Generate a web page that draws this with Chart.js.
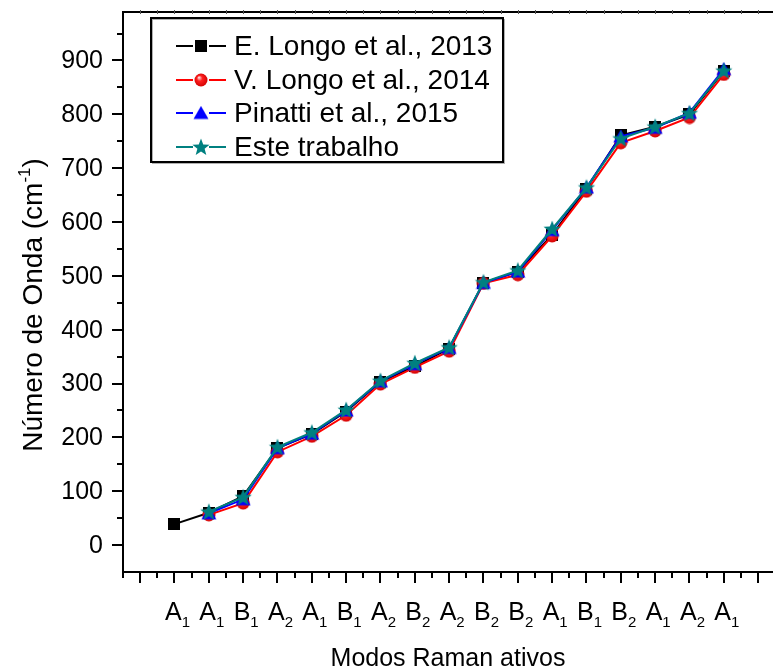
<!DOCTYPE html>
<html>
<head>
<meta charset="utf-8">
<script src="https://cdn.jsdelivr.net/npm/chart.js@4/dist/chart.umd.min.js"></script>
<style>
  html, body { margin: 0; padding: 0; background: #ffffff; }
  #wrap { width: 773px; height: 672px; }
</style>
</head>
<body>
<div id="wrap"><canvas id="c" width="773" height="672"></canvas></div>
<script>
// Raman-active modes (symmetry letter + index), one per position 1..17
const modeLetters = ['A','A','B','A','A','B','A','B','A','B','B','A','B','B','A','A','A'];
const modeIndices = ['1','1','1','2','1','1','2','2','2','2','2','1','1','2','1','2','1'];

// Wavenumbers (cm-1) for each mode
const eLongo2013   = [39, 60, 91, 180, 206, 248, 303, 332, 365, 487, 508, 576, 662, 761, 777, 800, 880];
const vLongo2014   = [null, 56, 78, 173, 202, 241, 299, 330, 360, 486, 502, 574, 657, 747, 769, 794, 874];
const pinatti2015  = [null, 59, 85, 180, 207, 250, 304, 336, 366, 487, 508, 585, 664, 759, 775, 803, 884];
const esteTrabalho = [null, 62, 89, 182, 209, 251, 305, 338, 367, 488, 510, 587, 664, 755, 777, 802, 881];

const seriesNames = ['E. Longo et al., 2013', 'V. Longo et al., 2014', 'Pinatti et al., 2015', 'Este trabalho'];
const yTickLabels = [0, 100, 200, 300, 400, 500, 600, 700, 800, 900];

const FONT = '"Liberation Sans", Arial, Helvetica, sans-serif';

// ---- marker images ----
function makeCanvas(w, h) {
  const c = document.createElement('canvas');
  c.width = w; c.height = h;
  return c;
}
function squareMarker() {
  const c = makeCanvas(12, 12);
  const g = c.getContext('2d');
  g.fillStyle = '#000000';
  g.fillRect(0, 0, 12, 12);
  return c;
}
function sphereMarker() {
  const c = makeCanvas(14, 14);
  const g = c.getContext('2d');
  const grad = g.createRadialGradient(5, 4.5, 0.5, 7, 7, 7);
  grad.addColorStop(0, '#ffd0d0');
  grad.addColorStop(0.35, '#ff2020');
  grad.addColorStop(1, '#d00000');
  g.fillStyle = grad;
  g.beginPath();
  g.arc(7, 7, 6.5, 0, Math.PI * 2);
  g.fill();
  return c;
}
function triangleMarker() {
  const c = makeCanvas(16, 15);
  const g = c.getContext('2d');
  g.fillStyle = '#0000ff';
  g.beginPath();
  g.moveTo(8, 0.5);
  g.lineTo(15.5, 13.5);
  g.lineTo(0.5, 13.5);
  g.closePath();
  g.fill();
  return c;
}
function starMarker() {
  const c = makeCanvas(20, 20);
  const g = c.getContext('2d');
  g.fillStyle = '#008080';
  g.beginPath();
  const R = 9, r = 3.8, cx = 10, cy = 10.6;
  for (let i = 0; i < 10; i++) {
    const ang = -Math.PI / 2 + i * Math.PI / 5;
    const rad = i % 2 === 0 ? R : r;
    const px = cx + rad * Math.cos(ang), py = cy + rad * Math.sin(ang);
    if (i === 0) g.moveTo(px, py); else g.lineTo(px, py);
  }
  g.closePath();
  g.fill();
  return c;
}

const markers = [squareMarker(), sphereMarker(), triangleMarker(), starMarker()];
const colors = ['#000000', '#ff0000', '#0000ff', '#008080'];
const seriesValues = [eLongo2013, vLongo2014, pinatti2015, esteTrabalho];

function toPoints(arr) {
  return arr.map((v, i) => ({ x: i + 1, y: v }));
}

const datasets = seriesValues.map((vals, k) => ({
  label: seriesNames[k],
  data: toPoints(vals),
  borderColor: colors[k],
  backgroundColor: colors[k],
  borderWidth: 2,
  pointStyle: markers[k],
  pointRadius: 6,
  pointHoverRadius: 6,
  tension: 0,
  spanGaps: false,
  order: 3 - k
}));

// ---- axes, labels, titles and legend ----
const framePlugin = {
  id: 'frame',
  beforeDatasetsDraw(chart) {
    const { ctx, chartArea, scales } = chart;
    const xs = scales.x, ys = scales.y;
    const L = chartArea.left, T = chartArea.top, B = chartArea.bottom, R = chart.width;
    ctx.save();
    ctx.strokeStyle = '#000000';
    ctx.lineWidth = 2;
    ctx.lineCap = 'butt';
    ctx.beginPath();
    ctx.moveTo(L, T - 1); ctx.lineTo(L, B + 1);
    ctx.moveTo(L - 1, T); ctx.lineTo(R, T);
    ctx.moveTo(L - 1, B); ctx.lineTo(R, B);
    ctx.stroke();

    // y ticks (major every 100, minor every 50)
    ctx.beginPath();
    for (let v = 0; v <= 950; v += 50) {
      const py = Math.round(ys.getPixelForValue(v));
      const len = v % 100 === 0 ? 11 : 6;
      ctx.moveTo(L - len, py); ctx.lineTo(L, py);
    }
    // x ticks (major on each position, minor halfway)
    for (let t = -0.5; t <= 18.01; t += 0.5) {
      const px = Math.round(xs.getPixelForValue(t));
      const major = Math.abs(t - Math.round(t)) < 1e-6;
      const len = major ? 11 : 6;
      ctx.moveTo(px, B); ctx.lineTo(px, B + len);
    }
    ctx.stroke();

    // small ticks along the top line
    ctx.lineWidth = 1;
    ctx.strokeStyle = '#555555';
    ctx.beginPath();
    for (let t = 0; t <= 18.01; t += 0.5) {
      const px = Math.round(xs.getPixelForValue(t)) + 0.5;
      ctx.moveTo(px, T - 2); ctx.lineTo(px, T + 2);
    }
    ctx.stroke();

    // y tick labels
    ctx.fillStyle = '#000000';
    ctx.font = '25px ' + FONT;
    ctx.textAlign = 'right';
    ctx.textBaseline = 'middle';
    yTickLabels.forEach(v => {
      ctx.fillText(String(v), L - 20, ys.getPixelForValue(v) + 1);
    });

    // x tick labels with subscripts
    ctx.textBaseline = 'alphabetic';
    ctx.textAlign = 'left';
    modeLetters.forEach((letter, i) => {
      const px = xs.getPixelForValue(i + 1);
      ctx.font = '25px ' + FONT;
      const w1 = ctx.measureText(letter).width;
      ctx.font = '15px ' + FONT;
      const w2 = ctx.measureText(modeIndices[i]).width;
      const x0 = px + 3 - (w1 + w2) / 2;
      ctx.font = '25px ' + FONT;
      ctx.fillText(letter, x0, 620);
      ctx.font = '15px ' + FONT;
      ctx.fillText(modeIndices[i], x0 + w1, 627);
    });

    // x axis title
    ctx.font = '25px ' + FONT;
    ctx.textAlign = 'center';
    ctx.textBaseline = 'middle';
    ctx.fillText('Modos Raman ativos', (L + R) / 2, 659);

    // y axis title with superscript
    ctx.save();
    ctx.translate(42, 305);
    ctx.rotate(-Math.PI / 2);
    ctx.textAlign = 'left';
    ctx.textBaseline = 'alphabetic';
    const p1 = 'Número de Onda (cm', sup = '-1', p3 = ')';
    ctx.font = '28px ' + FONT;
    const a = ctx.measureText(p1).width, c3 = ctx.measureText(p3).width;
    ctx.font = '17px ' + FONT;
    const b = ctx.measureText(sup).width;
    const x0 = -(a + b + c3) / 2;
    ctx.font = '28px ' + FONT;
    ctx.fillText(p1, x0, 0);
    ctx.font = '17px ' + FONT;
    ctx.fillText(sup, x0 + a, -12);
    ctx.font = '28px ' + FONT;
    ctx.fillText(p3, x0 + a + b, 0);
    ctx.restore();

    ctx.restore();
  },
  afterDraw(chart) {
    const { ctx } = chart;
    ctx.save();
    // legend frame
    const bx = 151, by = 18, bw = 352, bh = 144;
    ctx.fillStyle = '#ffffff';
    ctx.fillRect(bx, by, bw, bh);
    ctx.strokeStyle = '#b0b0b0';
    ctx.lineWidth = 1;
    ctx.strokeRect(bx + 1.5, by + 1.5, bw, bh);
    ctx.strokeStyle = '#000000';
    ctx.lineWidth = 2;
    ctx.strokeRect(bx, by, bw, bh);
    const rows = [46, 80, 113, 147];
    ctx.font = '28px ' + FONT;
    ctx.textAlign = 'left';
    ctx.textBaseline = 'middle';
    chart.data.datasets.forEach((ds, k) => {
      const y = rows[k];
      ctx.strokeStyle = ds.borderColor;
      ctx.lineWidth = 2;
      ctx.beginPath();
      ctx.moveTo(176, y); ctx.lineTo(193, y);
      ctx.moveTo(209, y); ctx.lineTo(226, y);
      ctx.stroke();
      const m = ds.pointStyle;
      ctx.drawImage(m, 201 - m.width / 2, y - m.height / 2);
      ctx.fillStyle = '#000000';
      ctx.fillText(ds.label, 234, y + 1);
    });
    ctx.restore();
  }
};

new Chart(document.getElementById('c'), {
  type: 'line',
  data: { datasets },
  options: {
    responsive: false,
    animation: false,
    events: [],
    layout: { padding: { top: 12, left: 0, right: 0, bottom: 0 } },
    plugins: {
      legend: { display: false },
      tooltip: { enabled: false },
      title: { display: false }
    },
    scales: {
      x: {
        type: 'linear',
        min: -0.5,
        max: 18.2,
        ticks: { display: false },
        grid: { display: false },
        border: { display: false },
        afterFit(s) { s.height = 100; }
      },
      y: {
        type: 'linear',
        min: -50,
        max: 990,
        ticks: { display: false },
        grid: { display: false },
        border: { display: false },
        afterFit(s) { s.width = 123; }
      }
    }
  },
  plugins: [framePlugin]
});
</script>
</body>
</html>
